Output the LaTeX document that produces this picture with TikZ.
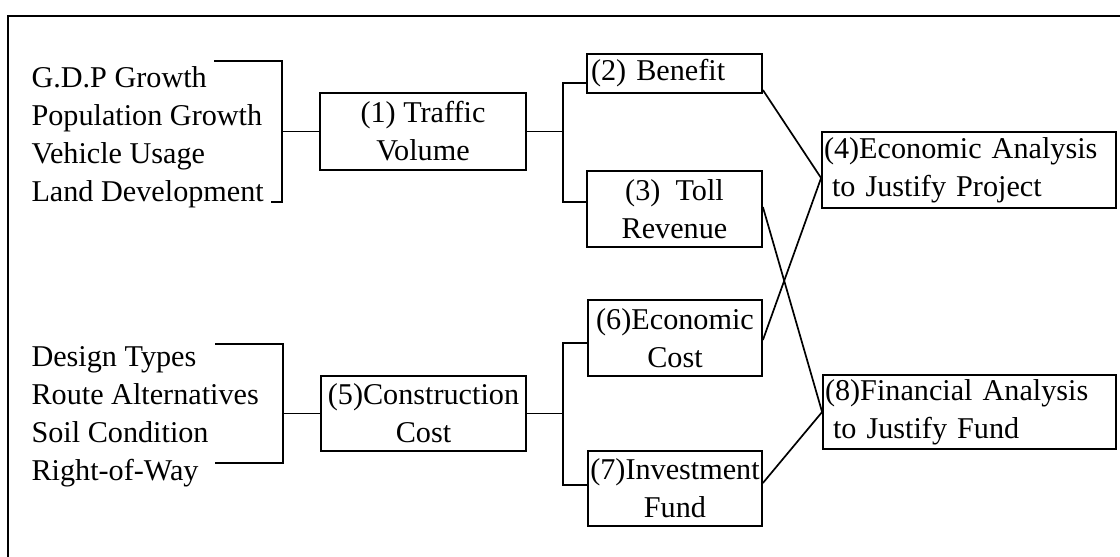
\documentclass[tikz,border=0pt]{standalone}
\usepackage{fontspec}
\setmainfont{Liberation Serif}
\begin{document}
\begin{tikzpicture}[x=1pt,y=-1pt,
  font=\fontsize{30.2}{38}\selectfont,
  box/.style={draw,line width=1.8pt,inner sep=0pt,align=center},
  lbox/.style={draw,line width=1.8pt,inner ysep=0pt,align=left},
  conn/.style={line width=1.7pt}]
\useasboundingbox (0,0) rectangle (1120,557);
% frame
\draw[line width=2.6pt] (8,560) |- (1125,16);
% inputs
\node[anchor=west,align=left] (f1) at (28,137) {G.D.P Growth\\Population Growth\\Vehicle Usage\\Land Development};
\node[anchor=west,align=left] (f2) at (28,417) {Design Types\\Route Alternatives\\Soil Condition\\Right-of-Way};
\draw[conn] (214,61) -| (282,202) -- (271,202);
\draw[conn] (215,344) -| (283,463) -- (215,463);
% boxes
\node[box,minimum width=206,minimum height=77] (tv) at (423,131.5) {(1) Traffic\\Volume};
\node[lbox,inner xsep=4pt,text width=167pt,minimum height=39] (bn) at (674.5,73.5) {(2) Benefit};
\node[box,minimum width=175,minimum height=76] (tr) at (674.5,209) {(3)~~Toll\\Revenue};
\node[lbox,inner xsep=2pt,text width=290pt,minimum height=76] (ea) at (969,170) {(4)Economic Analysis\\\hspace*{8pt}to Justify Project};
\node[box,minimum width=205,minimum height=75] (cc) at (423.5,413.5) {(5)Construction\\Cost};
\node[box,minimum width=174,minimum height=76] (ec) at (675,338) {(6)Economic\\Cost};
\node[box,minimum width=174,minimum height=75] (inv) at (675,488.5) {(7)Investment\\Fund};
\node[lbox,inner xsep=2pt,text width=289pt,minimum height=74] (fa) at (969.5,412) {(8)Financial Analysis\\\hspace*{8pt}to Justify Fund};
% connectors
\coordinate (k1) at (282,131.5);
\coordinate (k2) at (283,413.5);
\draw[conn] (k1) -- (tv.west);
\draw[conn] (k2) -- (cc.west);
\draw[conn] (tv.east) -- ++(36,0) coordinate (j1);
\draw[conn] ([yshift=-9.5pt]bn.west) -| (j1) |- ([yshift=7pt]tr.west);
\draw[conn] (cc.east) -- ++(36,0) coordinate (j2);
\draw[conn] ([yshift=-5pt]ec.west) -| (j2) |- ([yshift=3.5pt]inv.west);
\draw[conn] ([yshift=-16.5pt]bn.east) -- ([yshift=-8pt]ea.west);
\draw[conn] ([yshift=-2pt]ec.east) -- ([yshift=-8pt]ea.west);
\draw[conn] ([yshift=2pt]tr.east) -- (fa.west);
\draw[conn] ([yshift=5.5pt]inv.east) -- (fa.west);
\end{tikzpicture}
\end{document}
